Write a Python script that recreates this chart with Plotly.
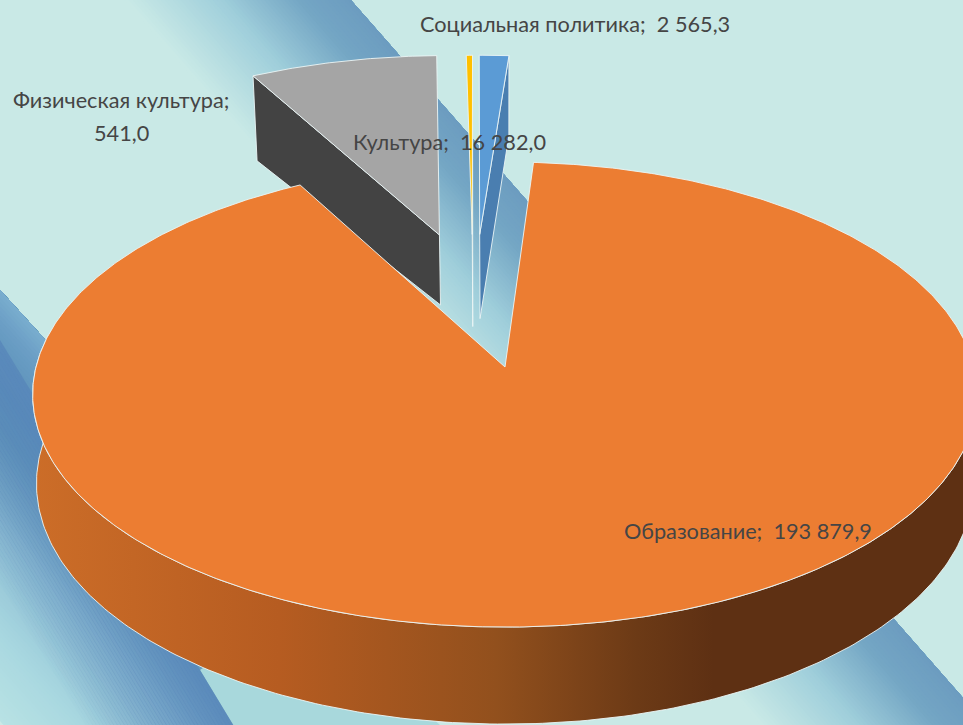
import math
import plotly.graph_objects as go

categories = ["Образование", "Культура", "Физическая культура", "Социальная политика"]
values = [193879.9, 16282.0, 541.0, 2565.3]

W, H = 963, 725
FONT = "Lato, 'Open Sans', sans-serif"
FONT_SIZE = 21.7
TEXT = "#454545"
BASE = "#C9E9E6"
EDGE = "rgba(235,245,245,0.9)"

# perspective model of the disc
CX, CY, RX, RY, P = 505, 367, 469, 229.3, 0.1183
START_DEG = 3.9
# slice styling: offset (u, v), depth at apex, depth at rim
STYLE = {
    "Образование": dict(off=(0, 0), top="#EC7D32"),
    "Культура": dict(off=(-0.15, 0.618), top="#A5A5A5", side="#434343", da=70, dr=85, edge="start"),
    "Физическая культура": dict(off=(-0.075, 0.62), top="#FFC000", side="#7F6000", da=92, dr=80, edge="end"),
    "Социальная политика": dict(off=(-0.058, 0.62), top="#5B9BD5", side="#4A7EB0", da=84, dr=80, edge="end"),
}
LABELS = {
    "Образование": (748, 531),
    "Культура": (449, 142),
    "Физическая культура": (121, 100),
    "Социальная политика": (575, 24),
}
LINE_GAP = 33

BAND_A = [(0, "#6C9CC0"), (40, "#74A6C4"), (100, "#A0CFDB"), (170, BASE)]
BAND_B = [(0, "#7AAECF"), (25, "#6A9DC4"), (66, "#5A8FB8"), (95, "#5F95B8"),
          (160, "#8CBCD3"), (235, "#A9D8E0"), (290, "#B8E2E4")]


def project(u, v):
    w = 1 + P * v
    return CX + RX * u / w, CY - RY * v / w


def lower(pt, dep, k=0.984):
    return CX + (pt[0] - CX) * k, pt[1] + dep


def fmt(v):
    return f"{v:,.1f}".replace(",", " ").replace(".", ",")


def hex_rgb(h):
    return tuple(int(h[i:i + 2], 16) for i in (1, 3, 5))


def color_at(stops, d):
    for (d0, c0), (d1, c1) in zip(stops, stops[1:]):
        if d <= d1:
            f = (d - d0) / (d1 - d0)
            a, b = hex_rgb(c0), hex_rgb(c1)
            return "rgb(%d,%d,%d)" % tuple(round(x + (y - x) * f) for x, y in zip(a, b))
    return stops[-1][1]


def strip_path(px, py, m, d0, d1):
    nrm = math.hypot(1, m)
    dx, dy = 1 / nrm, m / nrm
    nx, ny = -m / nrm, 1 / nrm
    L = 2000
    pts = [(px - dx * L + nx * d0, py - dy * L + ny * d0), (px + dx * L + nx * d0, py + dy * L + ny * d0),
           (px + dx * L + nx * d1, py + dy * L + ny * d1), (px - dx * L + nx * d1, py - dy * L + ny * d1)]
    return "M" + " L".join(f"{a:.1f},{b:.1f}" for a, b in pts) + " Z"


def shape(path, color):
    return dict(type="path", path=path, xref="x", yref="y", layer="below",
                fillcolor=color, line=dict(width=0))


def band(px, py, m, stops, step=3):
    """Nested opaque polygons, farthest first, so no seams appear."""
    out = []
    far = stops[-1][0]
    d = far
    while d > 0:
        out.append(shape(strip_path(px, py, m, 0, d), color_at(stops, d)))
        d -= step
    return out


shapes = []
shapes += band(377, 30, 1.14, BAND_A)
shapes += band(0, 290, 1.1, BAND_B)
# light area to the right of the lower edge
shapes.append(shape("M 233,725 L 200,670 L 300,600 L 440,725 Z", "#A8D8DC"))
# lower band fades out to the left
C_DEPTH = 125
for i in range(0, C_DEPTH, 3):
    a = 0.85 * (1 - i / C_DEPTH)
    shapes.append(shape(strip_path(200, 670, 1.65, i, i + 3.4), f"rgba(88,135,186,{a:.3f})"))

total = sum(values)
spans = {}
ang = START_DEG
for c, val in zip(categories, values):
    sweep = 360 * val / total
    spans[c] = (ang, ang + sweep)
    ang += sweep


def rim(cat, n=None):
    a0, a1 = spans[cat]
    ou, ov = STYLE[cat]["off"]
    n = n or max(2, int((a1 - a0) * 2))
    pts = []
    for i in range(n + 1):
        t = math.radians(a0 + (a1 - a0) * i / n)
        pts.append(project(ou + math.sin(t), ov + math.cos(t)))
    return pts


def poly(pts, color, line=EDGE, width=1.0, **kw):
    xs = [p[0] for p in pts] + [pts[0][0]]
    ys = [p[1] for p in pts] + [pts[0][1]]
    return go.Scatter(x=xs, y=ys, mode="lines", fill="toself", fillcolor=color,
                      line=dict(color=line, width=width), hoverinfo="skip", showlegend=False, **kw)


fig = go.Figure()

# the three small slices, drawn back to front
for cat in categories[1:]:
    st = STYLE[cat]
    r = rim(cat)
    apex = project(*st["off"])
    corner = r[0] if st["edge"] == "start" else r[-1]
    side = [apex, corner, lower(corner, st["dr"]), lower(apex, st["da"])]
    fig.add_trace(poly(side, st["side"]))
    fig.add_trace(poly([apex] + r, st["top"]))

# the large slice: outer wall, then top face
cat = categories[0]
st = STYLE[cat]
front = []
for i in range(241):
    deg = 82 + (278 - 82) * i / 240
    t = math.radians(deg)
    u, v = math.sin(t), math.cos(t)
    front.append((project(u, v), v))
top_edge = [p for p, _ in front]
bottom_edge = [lower(p, 88 - 9 * v, 0.992) for p, v in front]
wall = top_edge + bottom_edge[::-1]
xs = [p[0] for p in wall] + [wall[0][0]]
ys = [p[1] for p in wall] + [wall[0][1]]
fig.add_trace(go.Scatter(
    x=xs, y=ys, mode="lines", fill="toself",
    fillgradient=dict(type="horizontal", colorscale=[
        [0.0, "#CC6D28"], [0.26, "#B65C21"], [0.49, "#92501D"],
        [0.64, "#6C3A16"], [0.72, "#5E3013"], [1.0, "#5E3013"]]),
    line=dict(color=EDGE, width=1.0), hoverinfo="skip", showlegend=False))
fig.add_trace(poly([project(0, 0)] + rim(cat, 660), st["top"]))

annotations = []
for cat, val in zip(categories, values):
    x, y = LABELS[cat]
    lines = [f"{cat};", fmt(val)] if cat == "Физическая культура" else [f"{cat};  {fmt(val)}"]
    for i, line in enumerate(lines):
        annotations.append(dict(x=x, y=y + i * LINE_GAP, xref="x", yref="y", text=line,
                                showarrow=False, xanchor="center", yanchor="middle", align="center",
                                font=dict(family=FONT, size=FONT_SIZE, color=TEXT)))

fig.update_layout(
    width=W, height=H, margin=dict(l=0, r=0, t=0, b=0),
    paper_bgcolor=BASE, plot_bgcolor=BASE, showlegend=False,
    xaxis=dict(range=[0, W], visible=False, fixedrange=True),
    yaxis=dict(range=[H, 0], visible=False, fixedrange=True),
    shapes=shapes, annotations=annotations,
)
fig.write_html("out.html", config={"displayModeBar": False},
               post_script="document.body.style.margin='0';document.documentElement.style.overflow='hidden';")
